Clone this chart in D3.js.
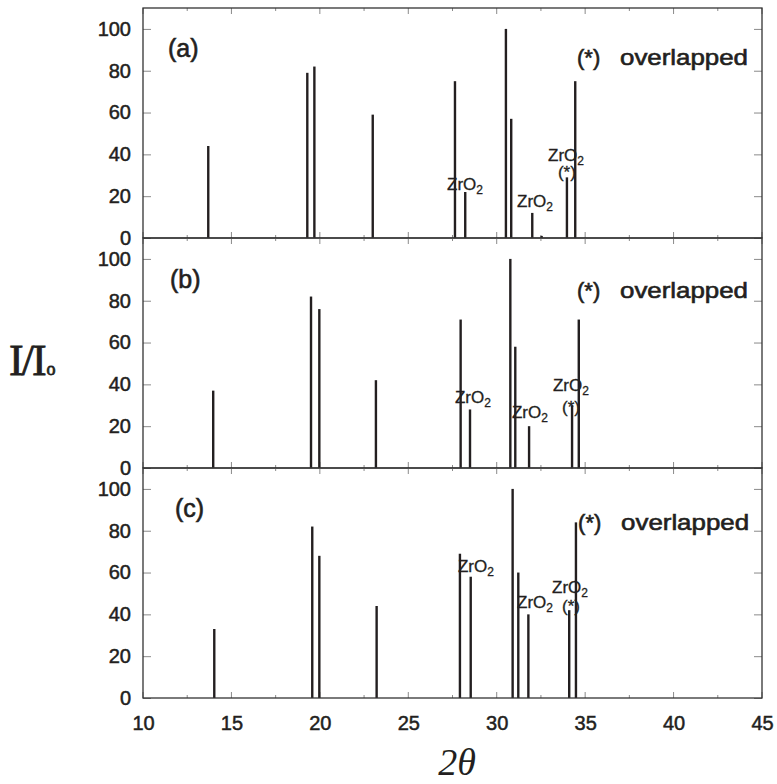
<!DOCTYPE html>
<html>
<head>
<meta charset="utf-8">
<script src="https://cdn.jsdelivr.net/npm/d3@7"></script>
<style>
  html, body { margin: 0; padding: 0; background: #fff; }
  svg { display: block; }
</style>
</head>
<body>
<svg id="chart" width="777" height="784"></svg>
<script>
// ---------------- DATA ----------------
const panelLabels = ["(a)", "(b)", "(c)"];

// peak positions (2θ) and relative intensities (I/Io)
const peaksA_x = [13.69, 19.29, 19.69, 22.99, 27.64, 28.22, 30.52, 30.82, 32.01, 32.54, 33.97, 34.44];
const peaksA_y = [44, 79, 82, 59, 75, 22, 100, 57, 12, 1, 29, 75];

const peaksB_x = [13.97, 19.50, 19.97, 23.17, 27.96, 28.49, 30.77, 31.05, 31.83, 34.26, 34.64];
const peaksB_y = [37, 82, 76, 42, 71, 28, 100, 58, 20, 30, 71];

const peaksC_x = [14.03, 19.57, 19.97, 23.21, 27.92, 28.53, 30.90, 31.22, 31.79, 34.10, 34.48];
const peaksC_y = [33, 82, 68, 44, 69, 58, 100, 60, 40, 42, 84];

// annotations (ZrO2 labels) anchored in data coordinates: [2θ, I/Io]
const zrA_x = [27.19, 31.15, 32.90];
const zrA_y = [23.0, 14.8, 37.0];
const zrB_x = [27.64, 30.86, 33.18];
const zrB_y = [31.1, 23.9, 37.0];
const zrC_x = [27.81, 31.15, 33.13];
const zrC_y = [60.3, 43.0, 50.0];

// "(*)" under the third ZrO2 label
const starSmall_x = [33.46, 33.69, 33.69];
const starSmall_y = [28.5, 26.5, 41.0];

// panel letter position and "(*) overlapped" legend position
const letter_x = [11.41, 11.53, 11.81];
const letter_y = [86.6, 86.1, 86.6];
const legend_x = [34.54, 34.54, 34.60];
const legend_y = [82.7, 81.3, 80.3];

const xTicks = [10, 15, 20, 25, 30, 35, 40, 45];
const xMinorTicks = d3.range(10, 45.01, 2.5);
const yTicks = [0, 20, 40, 60, 80, 100];

const legendStar = "(*)";
const legendText = "overlapped";
const zrText = "ZrO";
const zrSub = "2";
const xTitle = "2θ";
const yTitleMain = "I/I";
const yTitleSub = "o";

// ---------------- LAYOUT ----------------
const svg = d3.select("#chart");
const left = 143, right = 762;
const panelTop = [8, 238, 468];
const panelH = 230;
const ink = "#231f20";
const sans = "'Liberation Sans', Arial, Helvetica, sans-serif";
const serif = "'Liberation Serif', 'Times New Roman', Times, serif";

const x = d3.scaleLinear().domain([10, 45]).range([left, right]);

function heavy(sel, w) {
  return sel.attr("stroke", ink).attr("stroke-width", w).attr("paint-order", "stroke");
}

const panels = [
  { px: peaksA_x, py: peaksA_y, zx: zrA_x, zy: zrA_y },
  { px: peaksB_x, py: peaksB_y, zx: zrB_x, zy: zrB_y },
  { px: peaksC_x, py: peaksC_y, zx: zrC_x, zy: zrC_y }
];

panels.forEach((p, i) => {
  const top = panelTop[i], bottom = top + panelH;
  const y = d3.scaleLinear().domain([0, 110]).range([bottom, top]);
  const g = svg.append("g");

  // inward minor/major ticks on bottom and top
  const tickG = g.append("g").attr("stroke", "#8a8a8a").attr("stroke-width", 1);
  xMinorTicks.forEach(v => {
    const len = (v % 5 === 0) ? 6 : 3;
    tickG.append("line").attr("x1", x(v)).attr("x2", x(v))
      .attr("y1", bottom).attr("y2", bottom - len);
    tickG.append("line").attr("x1", x(v)).attr("x2", x(v))
      .attr("y1", top).attr("y2", top + len);
  });

  // left y axis with inward ticks
  const yAxis = d3.axisLeft(y).tickValues(yTicks).tickSize(-8).tickPadding(12)
    .tickFormat(d3.format("d"));
  const ya = g.append("g").attr("transform", `translate(${left},0)`).call(yAxis);
  ya.select(".domain").remove();
  ya.selectAll(".tick line").attr("stroke", "#8a8a8a");
  const yt = ya.selectAll(".tick text")
    .attr("font-family", sans).attr("font-size", 20).attr("fill", ink)
    .attr("x", -12);
  heavy(yt, 0.5);

  // right inward ticks
  const yr = d3.axisRight(y).tickValues(yTicks).tickSize(-8).tickFormat("");
  const yrg = g.append("g").attr("transform", `translate(${right},0)`).call(yr);
  yrg.select(".domain").remove();
  yrg.selectAll(".tick line").attr("stroke", "#8a8a8a");

  // peaks
  g.append("g").selectAll("line").data(p.px.map((v, k) => [v, p.py[k]]))
    .join("line")
    .attr("x1", d => x(d[0])).attr("x2", d => x(d[0]))
    .attr("y1", y(0)).attr("y2", d => y(d[1]))
    .attr("stroke", ink).attr("stroke-width", 2.4);

  // frame
  g.append("rect").attr("x", left).attr("y", top)
    .attr("width", right - left).attr("height", panelH)
    .attr("fill", "none").attr("stroke", "#333").attr("stroke-width", 1.3);

  // panel letter
  heavy(g.append("text").attr("x", x(letter_x[i])).attr("y", y(letter_y[i]))
    .attr("font-family", sans).attr("font-size", 25).attr("fill", ink)
    .text(panelLabels[i]), 0.6);

  // legend "(*) overlapped"
  heavy(g.append("text").attr("x", x(legend_x[i])).attr("y", y(legend_y[i]))
    .attr("font-family", sans).attr("font-size", 22).attr("fill", ink)
    .text(legendStar), 0.6);
  heavy(g.append("text").attr("x", x(legend_x[i]) + 43).attr("y", y(legend_y[i]))
    .attr("font-family", sans).attr("font-size", 22).attr("fill", ink)
    .attr("textLength", 128).attr("lengthAdjust", "spacingAndGlyphs")
    .text(legendText), 0.6);

  // ZrO2 labels
  p.zx.forEach((v, k) => {
    const t = g.append("text").attr("x", x(v)).attr("y", y(p.zy[k]))
      .attr("font-family", sans).attr("font-size", 17).attr("fill", ink);
    heavy(t, 0.3);
    t.append("tspan").text(zrText);
    t.append("tspan").attr("font-size", 12).attr("dy", 4).text(zrSub);
  });

  // small "(*)"
  heavy(g.append("text").attr("x", x(starSmall_x[i])).attr("y", y(starSmall_y[i]))
    .attr("font-family", sans).attr("font-size", 17).attr("fill", ink)
    .text(legendStar), 0.3);
});

// bottom x axis labels
const bottomY = panelTop[2] + panelH;
const xa = d3.axisBottom(x).tickValues(xTicks).tickSize(0).tickPadding(18)
  .tickFormat(d3.format("d"));
const xag = svg.append("g").attr("transform", `translate(0,${bottomY})`).call(xa);
xag.select(".domain").remove();
heavy(xag.selectAll(".tick text")
  .attr("font-family", sans).attr("font-size", 20).attr("fill", ink), 0.5);

// axis titles
svg.append("text").attr("x", 457).attr("y", 775).attr("text-anchor", "middle")
  .attr("font-family", serif).attr("font-style", "italic").attr("font-size", 38)
  .attr("fill", ink).text(xTitle);

const yTitle = svg.append("text").attr("x", 9).attr("y", 375)
  .attr("font-family", serif).attr("fill", ink);
heavy(yTitle, 0.8);
yTitle.append("tspan").attr("font-size", 44).attr("letter-spacing", -2).text(yTitleMain);
yTitle.append("tspan").attr("font-size", 18).attr("dx", 2).text(yTitleSub);
</script>
</body>
</html>
